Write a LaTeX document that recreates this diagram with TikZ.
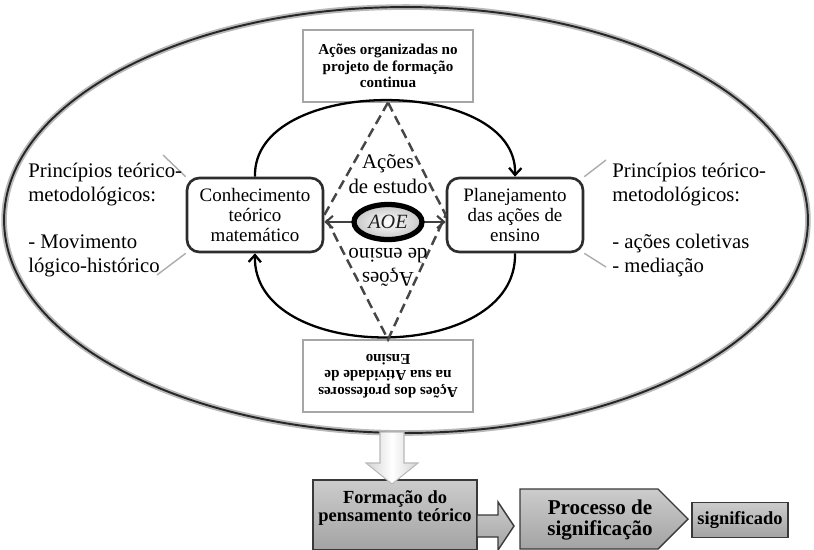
\documentclass[tikz,border=0pt]{standalone}
\usepackage{fontspec}
\setmainfont{Liberation Serif}
\usetikzlibrary{shapes.geometric,arrows.meta}

\begin{document}
\begin{tikzpicture}[x=0.02cm, y=-0.02cm,
  >={Straight Barb[length=4pt,width=7pt]},
  mainbox/.style={draw=gray!35!black, line width=1.5pt, rounded corners=7pt, fill=white,
    minimum width=2.72cm, minimum height=1.48cm, align=center, inner sep=1pt,
    font=\fontsize{10.8}{11.6}\selectfont},
  notebox/.style={draw=gray!70, line width=0.6pt, fill=white, minimum width=3.4cm,
    minimum height=1.44cm, align=center, inner sep=1pt, font=\bfseries\fontsize{8.6}{9.5}\selectfont},
  principle/.style={anchor=west, align=left, inner sep=0pt, font=\fontsize{11.8}{13.6}\selectfont},
  pointer/.style={draw=gray!65, line width=0.8pt},
  cycle arc/.style={->, line width=1.3pt},
  stagebox/.style={draw=gray!45!black, line width=0.8pt, top color=gray!40, bottom color=gray!72,
    align=center, inner sep=1pt},
  fatarrow/.style={draw=gray!55, line width=0.6pt, left color=gray!35, right color=gray!35, middle color=white},
  ]
  \useasboundingbox (0,0) rectangle (814,549);

  \draw [line width=3.2pt, gray!55] (406,220) ellipse [x radius=8.04cm, y radius=4.26cm];
  \draw [line width=1.1pt, black!85] (406,220) ellipse [x radius=8.04cm, y radius=4.26cm];

  \node [notebox] (top) at (388,66) {Ações organizadas no\\projeto de formação\\continua};
  \node [notebox, rotate=180] (bottom) at (388,376) {Ações dos professores\\na sua Atividade de\\Ensino};
  \node [mainbox] (cmt) at (255,215) {Conhecimento\\teórico\\matemático};
  \node [mainbox] (plan) at (515,215) {Planejamento\\das ações de\\ensino};

  \draw [cycle arc] (cmt.north) .. controls (252,75) and (518,75) .. (plan.north);
  \draw [cycle arc] (plan.south) .. controls (518,365) and (252,365) .. (cmt.south);

  \draw [gray!55!black, line width=1.4pt, dash pattern=on 5.5pt off 3pt]
    (top.south) -- (cmt.east) -- (bottom.south) -- (plan.west) -- cycle;

  \node [align=center, inner sep=0pt, font=\fontsize{11.8}{13.8}\selectfont] (study) at (388,174) {Ações\\de estudo};
  \node [align=center, inner sep=0pt, rotate=180, font=\fontsize{11.8}{13.8}\selectfont] (teach) at (388,267) {Ações\\de ensino};

  \coordinate (mid) at (388,222);
  \draw [<->, gray!50!black, line width=1.2pt] (cmt.east |- mid) -- (plan.west |- mid);
  \node [ellipse, draw=black, line width=3pt, inner color=white, outer color=gray!45,
    minimum width=1.36cm, minimum height=0.7cm, inner sep=0pt, text=gray!25!black,
    font=\itshape\fontsize{11.5}{11.5}\selectfont] (aoe) at (mid) {AOE};

  \coordinate (lt) at (163,155);
  \coordinate (lb) at (157,275);
  \coordinate (rt) at (606,160);
  \coordinate (rb) at (606,267);
  \draw [pointer] (lt) -- (cmt.north west);
  \draw [pointer] (lb) -- (cmt.south west);
  \draw [pointer] (rt) -- (plan.north east);
  \draw [pointer] (rb) -- (plan.south east);

  \node [principle] (lefttext) at (28,220) {Princípios teórico-\\metodológicos:\\[13.6pt]- Movimento\\lógico-histórico};
  \node [principle] (righttext) at (612,220) {Princípios teórico-\\metodológicos:\\[13.6pt]- ações coletivas\\- mediação};

  \node [stagebox, minimum width=3.28cm, minimum height=1.4cm, text depth=0.35cm,
    font=\bfseries\fontsize{10.5}{10.5}\selectfont] (form) at (395,515) {Formação do\\pensamento teórico};
  \draw [fatarrow] (380,432) -- (380,463) -- (366,463) -- (392,484) -- (418,463) -- (404,463) -- (404,432) -- cycle;
  \draw [stagebox] (477,515) -- (498,515) -- (498,502) -- (514,526) -- (498,550) -- (498,537) -- (477,537) -- cycle;
  \draw [stagebox] (520,489) -- (658,489) -- (688,519) -- (658,549) -- (520,549) -- cycle;
  \node [align=center, inner sep=0pt, font=\bfseries\fontsize{12}{12.5}\selectfont] (proc) at (600,520) {Processo de\\significação};
  \node [stagebox, minimum width=1.92cm, minimum height=0.7cm,
    font=\bfseries\fontsize{10.5}{11}\selectfont] (result) at (740,520) {significado};

\end{tikzpicture}
\end{document}
